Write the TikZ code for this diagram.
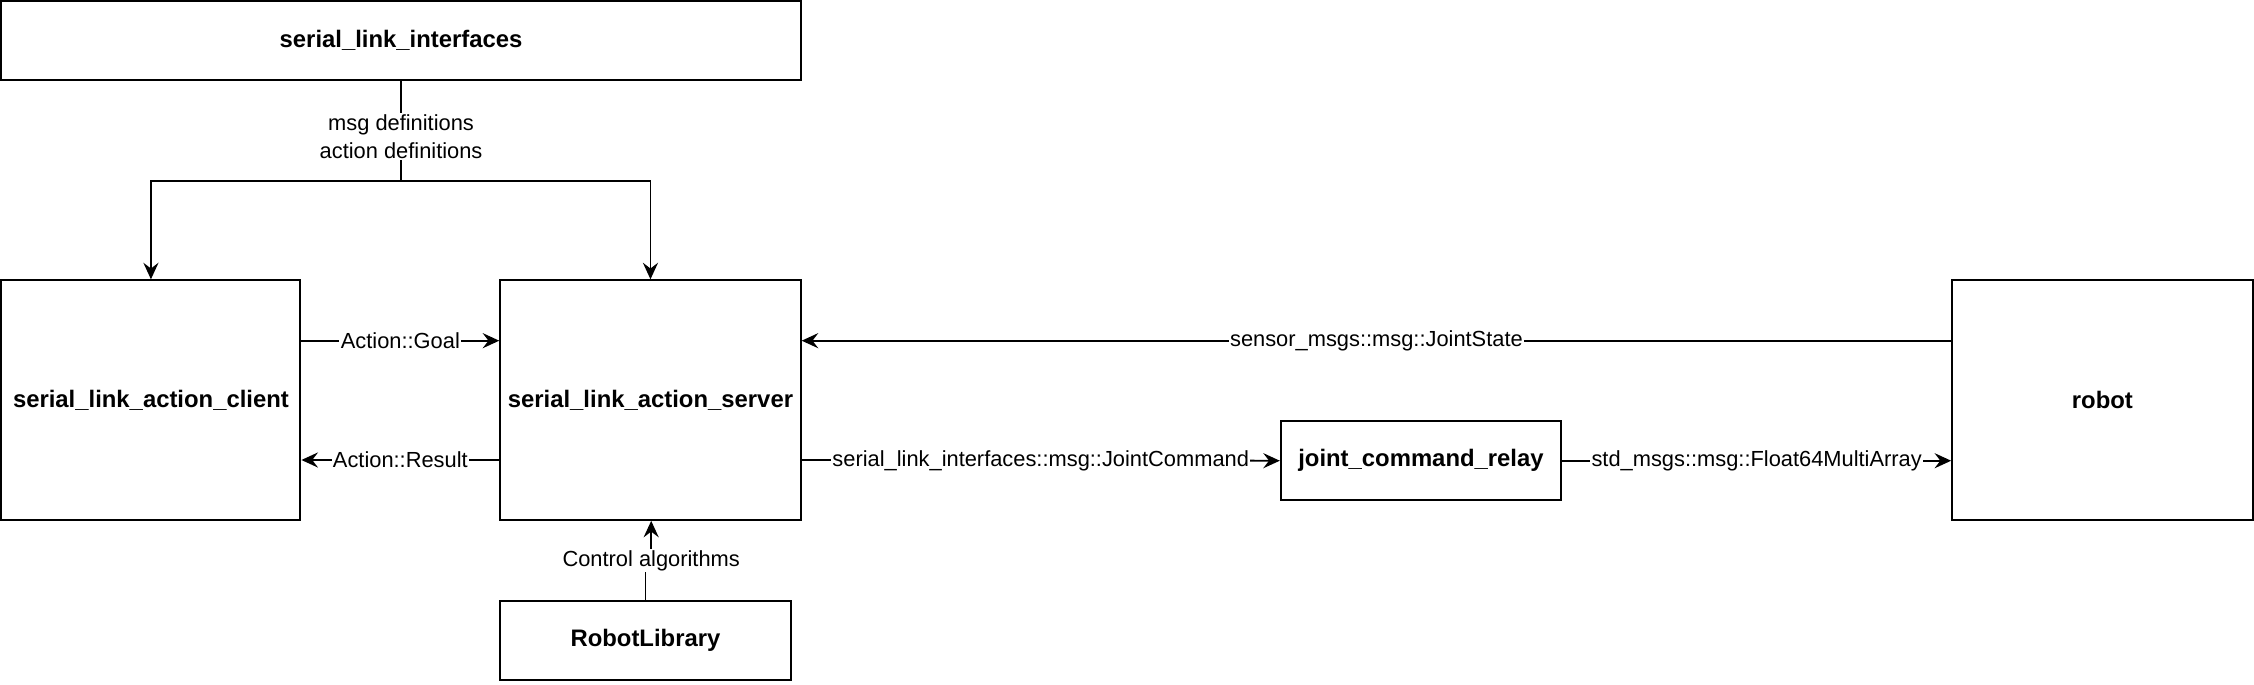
\documentclass[tikz,border=0pt]{standalone}
\usepackage{fontspec}
\setmainfont{Liberation Sans}
\usetikzlibrary{arrows.meta,positioning}
\begin{document}
\begin{tikzpicture}[x=1pt,y=-1pt,
  box/.style={draw,line width=1.4pt,inner sep=0pt,font=\fontsize{16.6}{19}\selectfont\bfseries},
  lbl/.style={fill=white,inner sep=1pt,font=\fontsize{15.2}{19}\selectfont},
  conn/.style={line width=1.3pt,-{Stealth[length=11.5pt,width=10.5pt,inset=4pt]}},
  plain/.style={line width=1.3pt}]
\useasboundingbox (0,0) rectangle (1568,476);
\node[box,minimum width=556pt,minimum height=55pt] (ifc) at (279,28) {serial\_link\_interfaces};
\node[box,minimum width=208pt,minimum height=167pt] (client) at (105,278.5) {serial\_link\_action\_client};
\node[box,minimum width=209pt,minimum height=167pt] (server) at (452.5,278.5) {serial\_link\_action\_server};
\node[box,minimum width=202pt,minimum height=55pt] (rlib) at (449,445.5) {RobotLibrary};
\node[box,minimum width=195pt,minimum height=55pt] (relay) at (988.5,320.5) {joint\_command\_relay};
\node[box,minimum width=209pt,minimum height=167pt] (robot) at (1462.5,278.5) {robot};
\coordinate (split) at (279,126);
\draw[plain] (ifc.south) -- (split);
\draw[conn] (split) -| (client.north);
\draw[conn] (split) -| (server.north);
\node[lbl,align=center] (deflbl) at (279,95) {msg definitions\\action definitions};
\draw[conn] (client.east |- 0,237) -- node[lbl] (goal) {Action::Goal} (server.west |- 0,237);
\draw[conn] (server.west |- 0,320) -- node[lbl] (result) {Action::Result} (client.east |- 0,320);
\coordinate (jog) at (449,390);
\draw[plain] (rlib.north) -- (jog);
\draw[conn] (453,390) -- (453,362.3);
\node[lbl] (ctrl) at (453,390) {Control algorithms};
\draw[conn] (robot.west |- 0,237) -- node[lbl] (js) {sensor\_msgs::msg::JointState} (server.east |- 0,237);
\draw[conn] (server.east |- 0,320) -- node[lbl] (jc) {serial\_link\_interfaces::msg::JointCommand} (relay.west);
\draw[conn] (relay.east) -- node[lbl] (fm) {std\_msgs::msg::Float64MultiArray} (robot.west |- 0,320.5);
\end{tikzpicture}
\end{document}
